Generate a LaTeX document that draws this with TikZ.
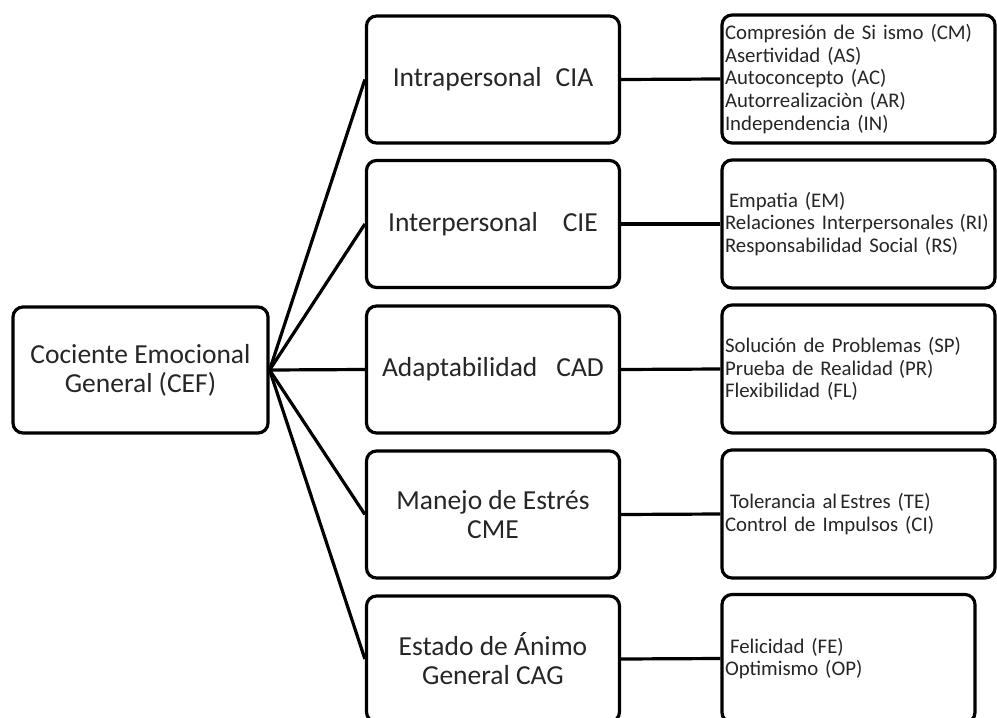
\documentclass[tikz,border=0pt]{standalone}
\usepackage{fontspec}
\setmainfont{Carlito}
\begin{document}
\begin{tikzpicture}[x=1pt,y=-1pt,
  box/.style={draw=black, line width=3.2pt, rounded corners=10pt, fill=white, text=black!85},
  bigbox/.style={box, minimum width=253pt, minimum height=127pt, align=center,
    font=\fontsize{27.5}{29}\selectfont},
  listbox/.style={box, minimum height=128pt, inner sep=3pt, align=left,
    font=\fontsize{20.8}{22.6}\selectfont},
  conn/.style={line width=3.2pt}]
\useasboundingbox (0,0) rectangle (997,718);
\clip (0,0) rectangle (997,718);
% root
\node[bigbox, minimum width=255pt, minimum height=126pt] (root) at (140.5,370) {Cociente Emocional\\General (CEF)};
% middle column
\node[bigbox] (m1) at (493,79.5) {Intrapersonal\hspace{14pt}CIA};
\node[bigbox] (m2) at (493,224) {Interpersonal\hspace{25pt}CIE};
\node[bigbox] (m3) at (493,369.5) {Adaptabilidad\hspace{19pt}CAD};
\node[bigbox] (m4) at (493,514.5) {Manejo de Estrés\\CME};
\node[bigbox, minimum height=126pt] (m5) at (493,659) {Estado de Ánimo\\General CAG};
% right column
\node[listbox, text width=267pt] (r1) at (858.5,79) {Compresión de Si ismo (CM)\\Asertividad (AS)\\Autoconcepto (AC)\\Autorrealizaciòn (AR)\\Independencia (IN)};
\node[listbox, text width=267pt] (r2) at (858.5,224) {\hspace*{4pt}Empatia (EM)\\Relaciones Interpersonales\hspace{6pt}(RI)\\Responsabilidad Social (RS)};
\node[listbox, text width=267pt] (r3) at (858.5,369) {Solución de Problemas (SP)\\Prueba de Realidad\hspace{6pt}(PR)\\Flexibilidad (FL)};
\node[listbox, text width=267pt] (r4) at (858.5,514) {\hspace*{5pt}Tolerancia al\hspace{3pt}Estres (TE)\\Control de Impulsos (CI)};
\node[listbox, text width=247pt] (r5) at (848.5,658.5) {\hspace*{5pt}Felicidad (FE)\\Optimismo (OP)};
% connectors
\foreach \m in {m1,m2,m3,m4,m5}{
  \draw[conn] (root.east) -- (\m.west);
}
\draw[conn] (m1.east) -- (r1.west);
\draw[conn] (m2.east) -- (r2.west);
\draw[conn] (m3.east) -- (r3.west);
\draw[conn] (m4.east) -- (r4.west);
\draw[conn] (m5.east) -- (r5.west);
\end{tikzpicture}
\end{document}
